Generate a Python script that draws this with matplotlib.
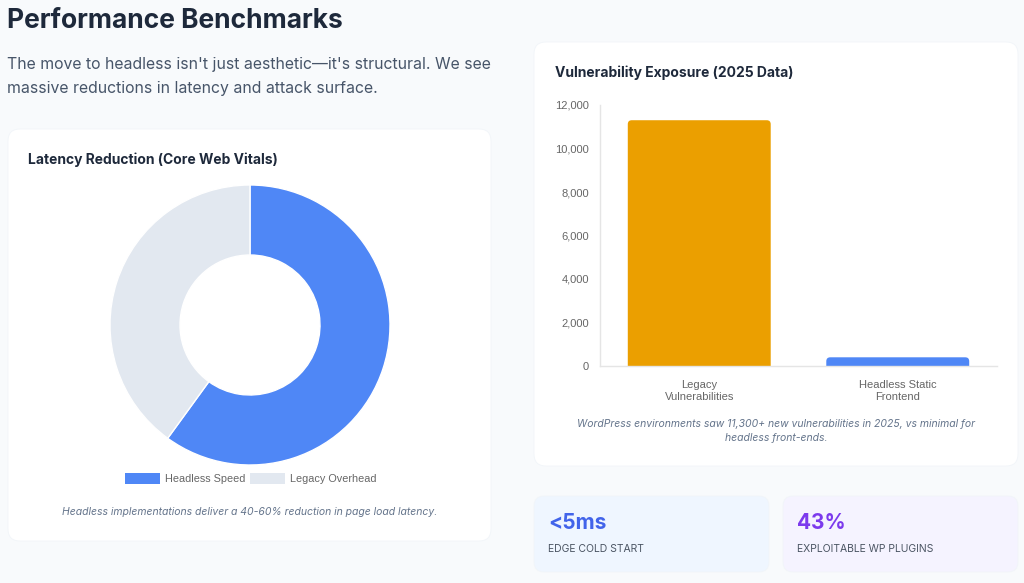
import matplotlib.pyplot as plt
from matplotlib.patches import FancyBboxPatch, Rectangle

plt.rcParams['font.family'] = ['Inter', 'DejaVu Sans']
CHART_FONT = ['Liberation Sans', 'DejaVu Sans']

# data
donut_labels = ['Headless Speed', 'Legacy Overhead']
donut_values = [60, 40]
donut_colors = ['#4f87f6', '#e2e8f0']

bar_labels = ['Legacy\nVulnerabilities', 'Headless Static\nFrontend']
bar_values = [11300, 400]
bar_colors = ['#eb9f00', '#4f87f6']
y_ticks = [0, 2000, 4000, 6000, 8000, 10000, 12000]

stats = [('<5ms', 'EDGE COLD START', '#4264ea', '#eff6ff'),
         ('43%', 'EXPLOITABLE WP PLUGINS', '#7c3aed', '#f5f3ff')]

W, H = 1024, 583
fig = plt.figure(figsize=(W / 100, H / 100), dpi=100, facecolor='#f8fafc')

# page layer in pixel coordinates
bg = fig.add_axes([0, 0, 1, 1])
bg.set_xlim(0, W)
bg.set_ylim(H, 0)
bg.axis('off')


def card(x0, y0, x1, y1, color='white', r=12):
    bg.add_patch(FancyBboxPatch((x0 + r, y0 + r), x1 - x0 - 2 * r, y1 - y0 - 2 * r,
                                boxstyle='round,pad=%d' % r, fc=color, ec='#f1f5f9', lw=0.6))


bg.text(7, 21, 'Performance Benchmarks', fontsize=19, fontweight='bold', color='#1e293b', va='center')
bg.text(7, 64, "The move to headless isn't just aesthetic\u2014it's structural. We see",
        fontsize=11.4, color='#475569', va='center')
bg.text(7, 88, 'massive reductions in latency and attack surface.',
        fontsize=11.4, color='#475569', va='center')

card(8, 129, 491, 541)
card(534, 42, 1018, 466)

bg.text(28, 160, 'Latency Reduction (Core Web Vitals)', fontsize=10, fontweight='bold',
        color='#1e293b', va='center')
bg.text(555, 73, 'Vulnerability Exposure (2025 Data)', fontsize=10, fontweight='bold',
        color='#1e293b', va='center')

# donut legend
lx = [125, 250]
for x, lab, c in zip(lx, donut_labels, donut_colors):
    bg.add_patch(Rectangle((x, 473), 35, 11, fc=c, ec='none'))
    bg.text(x + 40, 478.5, lab, fontsize=7.8, color='#666666', va='center', family=CHART_FONT)

bg.text(250, 512, 'Headless implementations deliver a 40-60% reduction in page load latency.',
        fontsize=7.5, style='italic', color='#64748b', ha='center', va='center')
bg.text(776, 424, 'WordPress environments saw 11,300+ new vulnerabilities in 2025, vs minimal for',
        fontsize=7.5, style='italic', color='#64748b', ha='center', va='center')
bg.text(776, 438, 'headless front-ends.',
        fontsize=7.5, style='italic', color='#64748b', ha='center', va='center')

# stat cards
for i, (val, lab, tc, fc) in enumerate(stats):
    x0 = 534 + i * 249
    card(x0, 496, x0 + 235, 572, color=fc, r=10)
    bg.text(x0 + 14, 523, val, fontsize=15, fontweight='bold', color=tc, va='center')
    bg.text(x0 + 14, 549, lab, fontsize=7.5, color='#4b5563', va='center')

# donut
ax1 = fig.add_axes([110 / W, 1 - 465 / H, 280 / W, 280 / H])
ax1.pie(donut_values, colors=donut_colors, startangle=90, counterclock=False,
        wedgeprops=dict(width=0.5, edgecolor='white', linewidth=1))
ax1.set_xlim(-1, 1)
ax1.set_ylim(-1, 1)
ax1.set_aspect('equal')

# bars with rounded tops (bottom corners pushed below the axis and clipped)
ax2 = fig.add_axes([600 / W, 1 - 366 / H, 397 / W, 261 / H])
ax2.set_facecolor('none')
bars = ax2.bar(range(len(bar_values)), bar_values, width=0.72, color=bar_colors)
ax2.set_xlim(-0.5, 1.5)
ax2.set_ylim(0, 12000)
rad = 0.02
asp = (12000 / 261) / (2 / 397)
for b in bars:
    b.set_visible(False)
    x, w, h = b.get_x(), b.get_width(), b.get_height()
    ext = rad * asp * 1.5
    ax2.add_patch(FancyBboxPatch((x, -ext), w, h + ext, boxstyle='round,pad=0,rounding_size=%g' % rad,
                                 mutation_aspect=asp, fc=b.get_facecolor(), ec='none'))
ax2.set_yticks(y_ticks)
ax2.set_yticklabels(['{:,}'.format(v) for v in y_ticks], family=CHART_FONT)
ax2.set_xticks(range(len(bar_labels)))
ax2.set_xticklabels(bar_labels, linespacing=1.3, family=CHART_FONT)
ax2.tick_params(length=0, labelsize=8, labelcolor='#666666', pad=8)
ax2.tick_params(axis='x', pad=10)
for s in ['top', 'right']:
    ax2.spines[s].set_visible(False)
for s in ['left', 'bottom']:
    ax2.spines[s].set_color('#e5e5e5')
    ax2.spines[s].set_linewidth(1)
    ax2.spines[s].set_zorder(3)

fig.savefig('out.png', dpi=100, facecolor=fig.get_facecolor())
